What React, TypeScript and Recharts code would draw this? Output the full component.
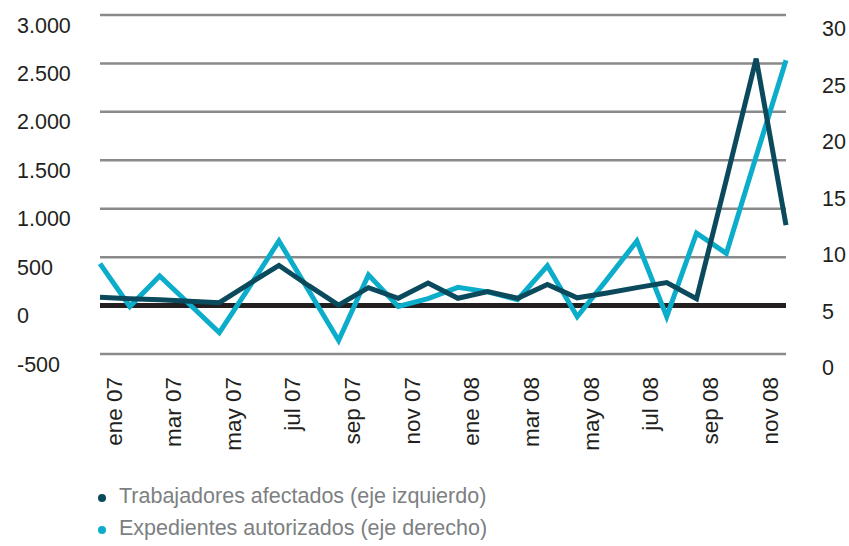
import { LineChart, Line, XAxis, YAxis, CartesianGrid, ReferenceLine } from "recharts";

const meses = [
  "ene 07", "feb 07", "mar 07", "abr 07", "may 07", "jun 07",
  "jul 07", "ago 07", "sep 07", "oct 07", "nov 07", "dic 07",
  "ene 08", "feb 08", "mar 08", "abr 08", "may 08", "jun 08",
  "jul 08", "ago 08", "sep 08", "oct 08", "nov 08", "dic 08",
];

// eje izquierdo
const trabajadores = [
  85, 70, 60, 45, 30, 225, 415, 205, 5, 185, 75, 232,
  75, 145, 75, 217, 80, 130, 185, 237, 70, 1300, 2550, 830,
];

// eje derecho
const expedientes = [
  8.0, 4.2, 6.9, 4.4, 1.9, 5.9, 10.0, 5.6, 1.2, 7.0, 4.2, 4.9,
  5.9, 5.5, 4.8, 7.8, 3.3, 6.6, 10.0, 3.3, 10.7, 8.9, 17.5, 26.0,
];

const ticksIzq = [-500, 0, 500, 1000, 1500, 2000, 2500, 3000];
const ticksDer = [0, 5, 10, 15, 20, 25, 30];

const OSCURO = "#0a4a5c";
const CIAN = "#0cadcb";
const TEXTO = "#231f20";
const FONT = "'Liberation Sans', Arial, Helvetica, sans-serif";
const FS = 21.5;

const data = meses.map((mes, i) => ({
  mes,
  trabajadores: trabajadores[i],
  expedientes: expedientes[i],
}));

const miles = (v: number) => String(v).replace(/\B(?=(\d{3})+(?!\d))/g, ".");

function TickIzq({ x, y, payload }: any) {
  return (
    <text x={x - 83} y={y + 17.5} textAnchor="start" fill={TEXTO} fontSize={FS} fontFamily={FONT}>
      {miles(payload.value)}
    </text>
  );
}

function TickDer({ x, y, payload }: any) {
  return (
    <text x={x + 36} y={y + 21} textAnchor="start" fill={TEXTO} fontSize={FS} fontFamily={FONT}>
      {payload.value}
    </text>
  );
}

function TickMes({ x, y, payload }: any) {
  return (
    <text
      transform={`translate(${x + 21.5},${y + 23}) rotate(-90)`}
      textAnchor="end"
      fill={TEXTO}
      fontSize={22.5}
      fontFamily={FONT}
    >
      {payload.value}
    </text>
  );
}

export default function App() {
  return (
    <div style={{ position: "absolute", left: 0, top: 0, width: 849, height: 546, background: "#fff" }}>
      <LineChart width={849} height={546} data={data} margin={{ top: 15, right: 0, bottom: 0, left: 0 }}>
        <CartesianGrid yAxisId="izq" vertical={false} stroke="#8a8a8a" strokeWidth={2.5} />
        <XAxis
          dataKey="mes"
          interval={1}
          height={192}
          padding={{ left: 0, right: 0 }}
          axisLine={false}
          tickLine={false}
          tickSize={0}
          tickMargin={0}
          tick={<TickMes />}
        />
        <YAxis
          yAxisId="izq"
          domain={[-500, 3000]}
          ticks={ticksIzq}
          width={100}
          axisLine={false}
          tickLine={false}
          tickSize={0}
          tickMargin={0}
          tick={<TickIzq />}
        />
        <YAxis
          yAxisId="der"
          orientation="right"
          domain={[0, 30]}
          ticks={ticksDer}
          width={63}
          axisLine={false}
          tickLine={false}
          tickSize={0}
          tickMargin={0}
          tick={<TickDer />}
        />
        <ReferenceLine yAxisId="izq" y={0} stroke={TEXTO} strokeWidth={5} />
        <Line
          yAxisId="der"
          dataKey="expedientes"
          type="linear"
          stroke={CIAN}
          strokeWidth={5}
          dot={false}
          isAnimationActive={false}
        />
        <Line
          yAxisId="izq"
          dataKey="trabajadores"
          type="linear"
          stroke={OSCURO}
          strokeWidth={5}
          dot={false}
          isAnimationActive={false}
        />
      </LineChart>
      <div
        style={{
          position: "absolute",
          left: 98,
          top: 480,
          fontFamily: FONT,
          fontSize: FS,
          color: "#7d7f82",
          lineHeight: "32px",
        }}
      >
        {[
          { nombre: "Trabajadores afectados (eje izquierdo)", color: OSCURO },
          { nombre: "Expedientes autorizados (eje derecho)", color: CIAN },
        ].map((s) => (
          <div key={s.nombre} style={{ display: "flex", alignItems: "center", whiteSpace: "nowrap" }}>
            <span
              style={{
                display: "inline-block",
                width: 8,
                height: 8,
                borderRadius: 4,
                background: s.color,
                marginRight: 13,
                marginTop: 3,
              }}
            />
            {s.nombre}
          </div>
        ))}
      </div>
    </div>
  );
}
